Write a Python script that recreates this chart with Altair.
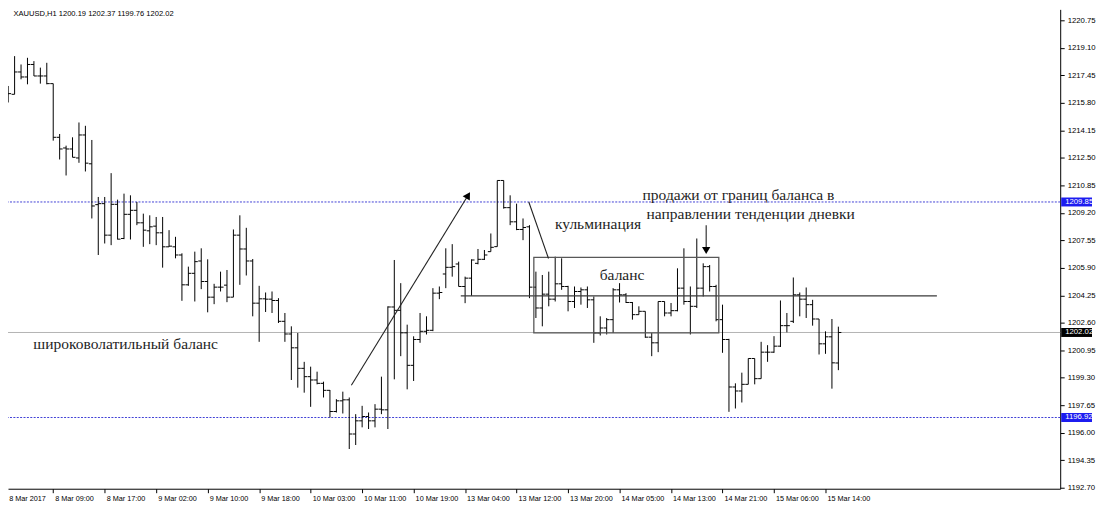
import json
import altair as alt
import pandas as pd

# ---------------- data ----------------
symbol = "XAUUSD,H1"

opens = [1215.22, 1216.31, 1216.31, 1217.65, 1217.35, 1218.10, 1217.41, 1217.41, 1216.95, 1213.73,
         1213.09, 1213.03, 1212.49, 1213.87, 1212.14, 1209.69, 1209.75, 1207.86, 1209.71, 1207.66,
         1209.11, 1209.35, 1208.60, 1208.12, 1208.40, 1208.00, 1207.16, 1207.16, 1206.67, 1204.88,
         1205.57, 1206.31, 1205.08, 1204.14, 1204.74, 1204.86, 1204.14, 1207.86, 1207.03, 1206.31,
         1203.78, 1204.04, 1204.02, 1203.94, 1202.69, 1201.93, 1201.10, 1199.87, 1199.37, 1199.17,
         1198.97, 1198.55, 1197.28, 1197.92, 1197.98, 1195.93, 1196.72, 1196.98, 1196.72, 1197.42,
         1197.38, 1203.55, 1203.35, 1202.00, 1200.05, 1201.60, 1202.09, 1202.15, 1204.38, 1205.53,
         1205.93, 1206.13, 1204.78, 1205.28, 1206.17, 1206.41, 1206.87, 1207.17, 1211.14, 1209.51,
         1208.66, 1208.20, 1208.36, 1204.74, 1203.49, 1204.32, 1204.02, 1204.94, 1204.78, 1203.88,
         1204.48, 1204.58, 1203.98, 1201.99, 1202.29, 1202.79, 1204.58, 1204.28, 1203.82, 1203.09,
         1203.29, 1201.74, 1201.40, 1203.88, 1203.19, 1203.33, 1204.68, 1203.88, 1203.59, 1204.68,
         1205.97, 1204.78, 1202.79, 1201.60, 1198.75, 1198.51, 1198.91, 1200.46, 1199.25, 1200.84,
         1200.84, 1201.20, 1202.43, 1202.69, 1204.28, 1204.02, 1203.69, 1202.83, 1201.34, 1201.76,
         1200.19]

highs = [1217.01, 1216.81, 1218.60, 1218.10, 1218.50, 1218.30, 1217.91, 1218.20, 1216.95, 1213.93,
         1213.23, 1213.73, 1214.62, 1214.42, 1213.57, 1210.15, 1210.15, 1211.58, 1209.99, 1210.35,
         1210.25, 1209.85, 1209.15, 1209.05, 1208.95, 1208.95, 1208.16, 1207.76, 1206.77, 1205.97,
         1206.87, 1207.07, 1206.41, 1204.94, 1205.67, 1205.77, 1208.20, 1209.05, 1208.30, 1206.43,
         1204.82, 1204.42, 1204.48, 1204.08, 1203.19, 1202.39, 1201.99, 1200.26, 1199.97, 1199.67,
         1199.07, 1198.57, 1198.02, 1198.47, 1198.12, 1197.12, 1197.62, 1197.22, 1197.72, 1199.37,
         1203.59, 1206.37, 1204.98, 1202.49, 1201.79, 1203.19, 1202.99, 1204.68, 1204.78, 1207.07,
         1207.32, 1206.27, 1205.37, 1206.41, 1207.03, 1206.97, 1207.96, 1211.14, 1211.14, 1210.25,
         1209.75, 1208.86, 1208.46, 1205.67, 1205.47, 1205.67, 1206.57, 1206.47, 1204.82, 1204.78,
         1204.72, 1204.78, 1204.18, 1202.99, 1202.89, 1204.68, 1204.98, 1204.38, 1203.85, 1203.59,
         1203.29, 1201.99, 1203.88, 1203.88, 1203.79, 1205.87, 1207.07, 1204.78, 1207.66, 1206.17,
         1206.07, 1204.88, 1203.69, 1201.64, 1198.97, 1199.61, 1200.46, 1200.46, 1201.46, 1201.26,
         1201.80, 1203.94, 1203.19, 1205.32, 1204.42, 1204.72, 1203.98, 1202.83, 1202.09, 1202.83,
         1202.37]

lows = [1214.82, 1215.82, 1216.31, 1217.21, 1216.91, 1217.41, 1216.95, 1216.91, 1213.53, 1212.40,
        1211.44, 1212.53, 1212.20, 1211.68, 1208.86, 1206.67, 1207.36, 1207.26, 1207.60, 1207.62,
        1207.60, 1208.46, 1207.16, 1207.32, 1207.26, 1205.91, 1207.16, 1206.47, 1203.92, 1204.82,
        1203.88, 1204.62, 1203.23, 1203.72, 1204.48, 1203.84, 1204.14, 1204.88, 1205.44, 1202.99,
        1201.46, 1203.25, 1203.19, 1202.59, 1201.46, 1199.17, 1198.71, 1198.41, 1197.56, 1198.91,
        1198.12, 1196.92, 1197.22, 1197.16, 1195.03, 1195.27, 1196.33, 1196.23, 1196.33, 1197.12,
        1196.23, 1199.21, 1200.60, 1198.61, 1199.11, 1201.40, 1201.90, 1202.10, 1204.02, 1204.68,
        1205.37, 1204.78, 1203.78, 1204.22, 1206.11, 1206.37, 1206.87, 1207.17, 1209.45, 1208.46,
        1208.16, 1207.56, 1204.08, 1202.89, 1202.39, 1203.59, 1203.88, 1204.58, 1203.29, 1203.49,
        1203.69, 1203.49, 1201.40, 1201.84, 1201.90, 1201.99, 1203.82, 1203.79, 1202.79, 1203.09,
        1201.70, 1200.60, 1200.84, 1202.99, 1202.99, 1203.29, 1203.69, 1201.90, 1203.49, 1204.18,
        1204.48, 1202.69, 1200.80, 1197.26, 1197.46, 1197.82, 1198.91, 1198.91, 1199.25, 1200.26,
        1200.80, 1201.15, 1202.03, 1202.59, 1202.99, 1202.89, 1202.43, 1200.70, 1200.74, 1198.65,
        1199.76]

closes = [1216.21, 1216.35, 1217.65, 1217.35, 1218.10, 1217.41, 1217.41, 1216.95, 1213.73, 1213.03,
          1213.03, 1212.53, 1213.87, 1212.18, 1209.61, 1209.75, 1207.86, 1209.71, 1207.62, 1209.11,
          1209.35, 1208.60, 1208.16, 1208.36, 1208.00, 1207.16, 1207.20, 1206.67, 1204.88, 1205.57,
          1206.27, 1205.08, 1204.14, 1204.74, 1204.74, 1204.14, 1207.86, 1207.03, 1206.31, 1203.78,
          1204.04, 1204.02, 1203.94, 1202.69, 1201.93, 1201.10, 1199.87, 1199.37, 1199.17, 1198.97,
          1198.55, 1197.28, 1197.92, 1197.98, 1195.93, 1196.72, 1196.98, 1196.72, 1197.42, 1197.38,
          1203.55, 1203.35, 1202.00, 1200.05, 1201.60, 1202.09, 1202.15, 1204.38, 1204.42, 1205.93,
          1205.97, 1204.78, 1205.28, 1206.37, 1206.41, 1206.67, 1207.13, 1211.14, 1209.51, 1208.66,
          1208.20, 1208.32, 1204.74, 1203.49, 1204.32, 1204.02, 1204.94, 1204.78, 1203.88, 1204.48,
          1204.58, 1203.98, 1201.99, 1202.29, 1202.79, 1204.58, 1204.28, 1203.82, 1203.09, 1203.29,
          1201.74, 1201.40, 1203.88, 1203.19, 1203.33, 1204.68, 1203.88, 1203.59, 1204.68, 1205.97,
          1204.78, 1202.79, 1201.60, 1198.75, 1198.51, 1198.91, 1200.46, 1199.25, 1200.84, 1200.84,
          1201.20, 1202.43, 1202.43, 1204.28, 1204.02, 1203.69, 1202.83, 1201.34, 1201.76, 1200.20,
          1202.02]

x_tick_labels = ["8 Mar 2017", "8 Mar 09:00", "8 Mar 17:00", "9 Mar 02:00", "9 Mar 10:00",
                 "9 Mar 18:00", "10 Mar 03:00", "10 Mar 11:00", "10 Mar 19:00", "13 Mar 04:00",
                 "13 Mar 12:00", "13 Mar 20:00", "14 Mar 05:00", "14 Mar 13:00", "14 Mar 21:00",
                 "15 Mar 06:00", "15 Mar 14:00"]
x_tick_step = 8

y_tick_values = [1220.75, 1219.10, 1217.45, 1215.80, 1214.15, 1212.50, 1210.85, 1209.20, 1207.55,
                 1205.90, 1204.25, 1202.60, 1200.95, 1199.30, 1197.65, 1196.00, 1194.35, 1192.70]

upper_level = 1209.85
lower_level = 1196.92
last_price = 1202.02

# annotation geometry in data units (bar index, price)
balance_line_i = [71.33, 145.31]
balance_line_p = 1204.22
box_i = [82.68, 111.42]
box_p = [1202.00, 1206.53]

seg_i1 = [54.33, 81.90, 109.46]
seg_p1 = [1198.85, 1209.85, 1208.46]
seg_i2 = [72.47, 84.96, 109.46]
seg_p2 = [1210.25, 1206.46, 1207.15]

head_i = [72.47, 109.46]
head_p = [1210.25, 1206.94]
head_shape = ["triangle-up", "triangle-down"]
head_angle = [31.6, 0]

note_text = ["широковолатильный баланс", "кульминация", "баланс",
             "продажи от границ баланса в", "направлении тенденции дневки"]
note_i = [4.91, 85.97, 92.92, 99.57, 100.19]
note_p = [1201.00, 1208.22, 1205.15, 1209.95, 1208.80]

# ---------------- layout ----------------
W, H = 1058, 482
X_DOM = [0.9736, 164.47]
Y_DOM = [1192.647, 1221.406]
BLUE = "#4141d6"
BADGE_BLUE = "#1c1cf0"
SANS = "Liberation Sans"
SERIF = "Liberation Serif"

xs = alt.Scale(domain=X_DOM, nice=False, zero=False)
ys = alt.Scale(domain=Y_DOM, nice=False, zero=False)

bars = pd.DataFrame({"i": list(range(len(opens))), "o": opens, "h": highs, "l": lows, "c": closes})

x_axis = alt.Axis(
    orient="bottom", values=list(range(x_tick_step, x_tick_step * (len(x_tick_labels) - 1) + 1, x_tick_step)),
    labelExpr="%s[round(datum.value / %d)]" % (json.dumps(x_tick_labels), x_tick_step),
    labelAlign="left", labelBaseline="top", labelOffset=1.5, labelPadding=2, tickSize=4,
    labelFont=SANS, labelFontSize=7.3, labelColor="black", tickColor="black",
    domainColor="black", grid=False, title=None, labelOverlap=False, labelFlush=False,
    labelBound=False)
y_axis = alt.Axis(
    orient="right", values=y_tick_values, format=".2f", tickSize=4, labelPadding=3,
    labelFont=SANS, labelFontSize=7.8, labelColor="black", tickColor="black",
    domainColor="black", grid=False, title=None, labelOverlap=False, labelFlush=False,
    labelBound=False)

# every layer shares the same scales and the same axis definitions
X = lambda f: alt.X(f, scale=xs, axis=x_axis, title=None)
Y = lambda f: alt.Y(f, scale=ys, axis=y_axis, title=None)

# horizontal levels
levels = pd.DataFrame({"p": [upper_level, lower_level]})
dotted = alt.Chart(levels).mark_rule(color=BLUE, strokeDash=[2, 1.4], strokeWidth=1).encode(y=Y("p:Q"))
lastline = alt.Chart(pd.DataFrame({"p": [last_price]})).mark_rule(color="#b4b4b4", strokeWidth=1).encode(y=Y("p:Q"))

# OHLC bars
hl = alt.Chart(bars).mark_rule(color="black", strokeWidth=1, clip=True).encode(
    x=X("i:Q"), y=Y("l:Q"), y2="h:Q")
op = alt.Chart(bars).mark_rule(color="black", strokeWidth=1, x2Offset=-3, clip=True).encode(
    x=X("i:Q"), x2="i:Q", y=Y("o:Q"))
cl = alt.Chart(bars).mark_rule(color="black", strokeWidth=1, x2Offset=3, clip=True).encode(
    x=X("i:Q"), x2="i:Q", y=Y("c:Q"))

# annotations
bline = alt.Chart(pd.DataFrame({"i1": [balance_line_i[0]], "i2": [balance_line_i[1]], "p": [balance_line_p]})
                  ).mark_rule(color="#3a3a3a", strokeWidth=1.2).encode(x=X("i1:Q"), x2="i2:Q", y=Y("p:Q"))
box = alt.Chart(pd.DataFrame({"i1": [box_i[0]], "i2": [box_i[1]], "p1": [box_p[0]], "p2": [box_p[1]]})
                ).mark_rect(fillOpacity=0, stroke="#585858", strokeWidth=1.3).encode(
    x=X("i1:Q"), x2="i2:Q", y=Y("p1:Q"), y2="p2:Q")
segs = alt.Chart(pd.DataFrame({"i1": seg_i1, "p1": seg_p1, "i2": seg_i2, "p2": seg_p2})
                 ).mark_rule(color="#222222", strokeWidth=1.1).encode(
    x=X("i1:Q"), x2="i2:Q", y=Y("p1:Q"), y2="p2:Q")
heads = alt.Chart(pd.DataFrame({"i": head_i, "p": head_p, "s": head_shape, "a": head_angle})
                  ).mark_point(filled=True, color="black", opacity=1, size=70).encode(
    x=X("i:Q"), y=Y("p:Q"), shape=alt.Shape("s:N", scale=None), angle=alt.Angle("a:Q", scale=None))
notes = alt.Chart(pd.DataFrame({"t": note_text, "i": note_i, "p": note_p})).mark_text(
    align="left", baseline="alphabetic", font=SERIF, fontSize=15.6, color="#1e1e1e").encode(
    x=X("i:Q"), y=Y("p:Q"), text="t:N")

# header and first x label
header_text = "%s  %.2f %.2f %.2f %.2f" % (symbol, opens[-1], highs[-1], lows[-1], closes[-1])
header = alt.Chart(pd.DataFrame({"t": [header_text]})).mark_text(
    align="left", baseline="middle", font=SANS, fontSize=7.6, color="black").encode(
    x=alt.value(5.5), y=alt.value(4.5), text="t:N")
first_label = alt.Chart(pd.DataFrame({"i": [0], "t": [x_tick_labels[0]]})).mark_text(
    align="left", baseline="top", dx=7.5, font=SANS, fontSize=7.3, color="black").encode(
    x=X("i:Q"), y=alt.value(H + 6), text="t:N")

# right-axis price badges
badges = pd.DataFrame({"p": [upper_level, lower_level, last_price],
                       "t": ["%.2f" % v for v in [upper_level, lower_level, last_price]],
                       "c": [BADGE_BLUE, BADGE_BLUE, "black"]})
badge_rect = alt.Chart(badges).mark_rect(yOffset=-4.5, y2Offset=4.5).encode(
    x=alt.value(W + 1), x2=alt.value(W + 32), y=Y("p:Q"), y2="p:Q", color=alt.Color("c:N", scale=None))
badge_text = alt.Chart(badges).mark_text(
    align="left", baseline="middle", font=SANS, fontSize=7.8, color="white").encode(
    x=alt.value(W + 5), y=Y("p:Q"), text="t:N")

chart = alt.layer(
    dotted, lastline, hl, op, cl, bline, box, segs, heads, notes, header, first_label,
    badge_rect, badge_text
).properties(
    width=W, height=H,
    autosize=alt.AutoSizeParams(type="none"),
    padding={"left": 0, "top": 0, "right": 37, "bottom": 16},
    background="white",
).configure_view(stroke=None)

chart.save("out.html", embed_options={"renderer": "svg", "actions": False})
